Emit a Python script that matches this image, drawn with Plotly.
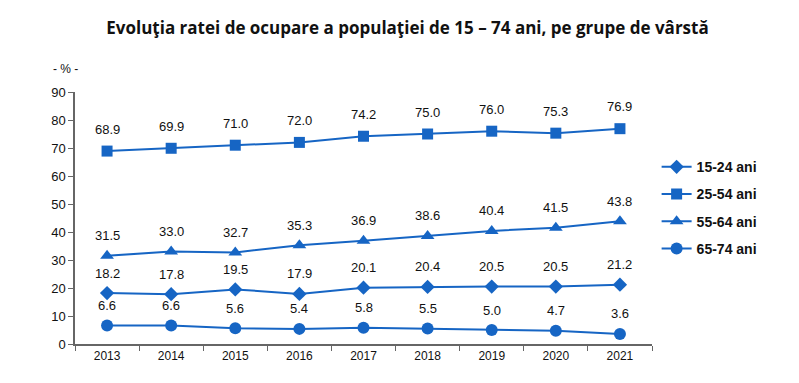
import plotly.graph_objects as go

years = ["2013", "2014", "2015", "2016", "2017", "2018", "2019", "2020", "2021"]
s15_24 = [18.2, 17.8, 19.5, 17.9, 20.1, 20.4, 20.5, 20.5, 21.2]
s25_54 = [68.9, 69.9, 71.0, 72.0, 74.2, 75.0, 76.0, 75.3, 76.9]
s55_64 = [31.5, 33.0, 32.7, 35.3, 36.9, 38.6, 40.4, 41.5, 43.8]
s65_74 = [6.6, 6.6, 5.6, 5.4, 5.8, 5.5, 5.0, 4.7, 3.6]
names = ["15-24 ani", "25-54 ani", "55-64 ani", "65-74 ani"]
y_ticks = [0, 10, 20, 30, 40, 50, 60, 70, 80, 90]

color = "#1665c4"
series = [(s15_24, "diamond", 11), (s25_54, "square", 11), (s55_64, "triangle-up", 12), (s65_74, "circle", 12)]
shifts = [20, 22, 20, 20]

fig = go.Figure()
annotations = []
for (vals, sym, sz), name, sh in zip(series, names, shifts):
    fig.add_trace(go.Scatter(
        x=years, y=vals, mode="lines+markers", name=name, legendgroup=name,
        line=dict(color=color, width=2),
        marker=dict(symbol=sym, size=sz, color=color),
    ))
    for i, v in enumerate(vals):
        annotations.append(dict(x=i, y=v, text=f"{v:.1f}", showarrow=False,
                                yshift=sh, font=dict(family="Arial", size=13, color="#111")))

annotations.append(dict(x=-0.017, y=1.055, xref="paper", yref="paper", text="- % -",
                        showarrow=False, xanchor="center", yanchor="bottom",
                        font=dict(family="Arial", size=12, color="#111")))

fig.update_layout(
    width=799, height=383,
    margin=dict(l=67, r=155, t=84, b=47),
    plot_bgcolor="white", paper_bgcolor="white",
    title=dict(text="<b>Evoluţia ratei de ocupare a populaţiei de 15 – 74 ani, pe grupe de vârstă</b>",
               x=0.5, xanchor="center", y=0.948, yanchor="middle",
               font=dict(family="Open Sans", size=17, color="#111")),
    xaxis=dict(type="category", categoryorder="array", categoryarray=years,
               range=[-0.5, len(years) - 0.5], showline=True, linecolor="#666", linewidth=1.5,
               ticks="outside", tickson="boundaries", ticklen=5, tickcolor="#666", tickangle=0,
               showgrid=False, tickfont=dict(family="Arial", size=12, color="#111")),
    yaxis=dict(range=[0, 90], tickvals=y_ticks, showline=True, linecolor="#666", linewidth=1.5,
               ticks="outside", ticklen=5, tickcolor="#666", showgrid=False, zeroline=False,
               tickfont=dict(family="Arial", size=13, color="#111")),
    legend=dict(x=1.008, y=0.765, xanchor="left", yanchor="top", tracegroupgap=6,
                font=dict(family="Arial", size=14, color="#111", weight="bold")),
    annotations=annotations,
    showlegend=True,
)
fig.write_html("out.html")
